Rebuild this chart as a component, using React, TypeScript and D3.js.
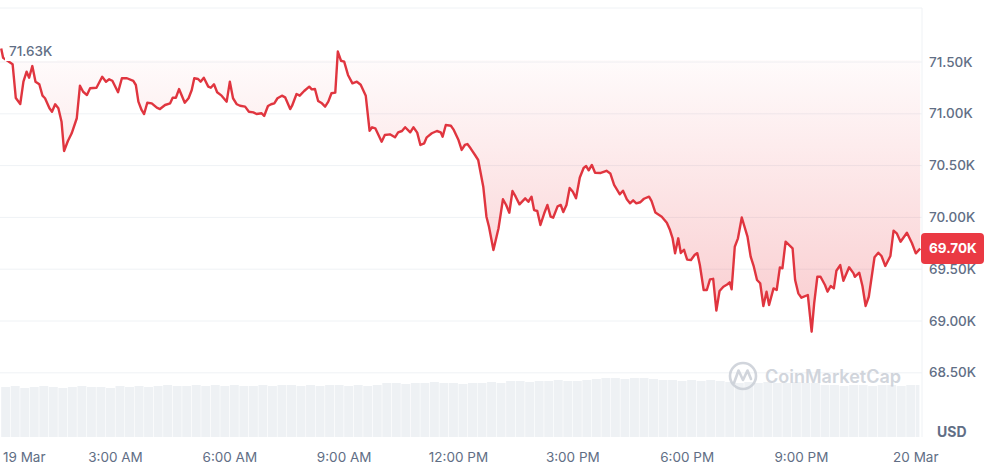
import React from "react";
import * as d3 from "d3";

// minutes since 19 Mar 00:00
const times = [
  0, 3, 18, 23, 30, 35, 40, 44, 49, 54, 60, 65, 69, 76, 80, 85, 90, 95, 99, 105,
  111, 119, 124, 129, 135, 140, 150, 159, 165, 170, 175, 184, 190, 198, 208, 212, 216, 221, 225, 230,
  237, 245, 250, 258, 266, 270, 275, 280, 289, 295, 300, 304, 310, 314, 319, 326, 330, 335, 340, 347,
  355, 360, 365, 371, 376, 384, 390, 397, 402, 410, 414, 420, 425, 430, 435, 442, 447, 455, 458, 465,
  470, 477, 485, 489, 494, 499, 505, 510, 515, 520, 526, 530, 535, 540, 546, 553, 560, 566, 574, 580,
  584, 589, 599, 604, 612, 620, 625, 631, 636, 644, 649, 655, 660, 666, 670, 678, 686, 692, 695, 700,
  708, 712, 720, 725, 730, 734, 739, 746, 751, 759, 764, 768, 775, 783, 790, 795, 800, 805, 810, 816,
  825, 830, 835, 839, 844, 849, 855, 860, 865, 869, 876, 881, 885, 890, 895, 900, 905, 911, 917, 921,
  925, 930, 935, 944, 953, 959, 965, 970, 974, 979, 985, 990, 995, 1000, 1006, 1012, 1020, 1024, 1030, 1040,
  1048, 1053, 1057, 1061, 1066, 1070, 1075, 1080, 1086, 1092, 1096, 1100, 1106, 1111, 1116, 1121, 1126, 1131, 1137, 1143,
  1147, 1150, 1155, 1160, 1166, 1175, 1180, 1185, 1190, 1195, 1200, 1205, 1209, 1216, 1221, 1226, 1230, 1235, 1246, 1250,
  1255, 1260, 1270, 1276, 1280, 1285, 1290, 1297, 1301, 1306, 1311, 1315, 1321, 1326, 1335, 1342, 1344, 1351, 1356, 1361,
  1366, 1375, 1381, 1386, 1392, 1400, 1405, 1410, 1416, 1426, 1434, 1440, 1447,
];

const prices = [
  71630, 71540, 71478, 71152, 71095, 71310, 71406, 71348, 71461, 71310, 71285, 71175, 71150, 71053, 71020, 71092, 71053, 70924, 70641, 70737,
  70812, 70957, 71271, 71213, 71181, 71246, 71252, 71358, 71310, 71333, 71319, 71208, 71343, 71343, 71317, 71278, 71117, 71037, 70998, 71107,
  71101, 71059, 71046, 71085, 71101, 71155, 71155, 71239, 71107, 71150, 71230, 71343, 71336, 71310, 71348, 71262, 71252, 71285, 71208, 71175,
  71117, 71310, 71150, 71092, 71078, 71069, 71020, 71014, 70998, 71005, 70979, 71075, 71092, 71101, 71150, 71175, 71159, 71046, 71078, 71191,
  71175, 71220, 71262, 71236, 71239, 71124, 71101, 71069, 71117, 71198, 71205, 71601, 71512, 71503, 71375, 71294, 71310, 71281, 71174, 70836,
  70870, 70860, 70731, 70795, 70802, 70773, 70821, 70834, 70870, 70821, 70870, 70818, 70699, 70715, 70773, 70812, 70834, 70821, 70779, 70892,
  70885, 70850, 70747, 70651, 70699, 70708, 70667, 70602, 70554, 70296, 70007, 69910, 69685, 69895, 70175, 70120, 70045, 70255, 70200, 70126,
  70184, 70151, 70200, 70071, 70062, 69927, 70040, 70120, 70007, 69997, 70107, 70120, 70052, 70120, 70284, 70248, 70184, 70385, 70477, 70496,
  70455, 70506, 70431, 70429, 70450, 70424, 70313, 70264, 70223, 70258, 70175, 70136, 70165, 70136, 70146, 70180, 70200, 70158, 70047, 70007,
  69949, 69878, 69801, 69653, 69798, 69656, 69688, 69592, 69589, 69640, 69655, 69540, 69299, 69299, 69402, 69407, 69101, 69289, 69331, 69352,
  69373, 69306, 69717, 69798, 69999, 69814, 69621, 69524, 69396, 69364, 69145, 69283, 69154, 69315, 69299, 69518, 69509, 69765, 69702, 69396,
  69267, 69225, 69251, 68897, 69171, 69427, 69427, 69347, 69283, 69338, 69315, 69485, 69540, 69389, 69518, 69460, 69427, 69466, 69338, 69145,
  69234, 69615, 69659, 69627, 69531, 69627, 69872, 69846, 69765, 69852, 69750, 69653, 69700,
];

// volume per 15 minutes (relative units)
const volumes = [
  50, 51, 49, 50, 51, 50, 49, 50, 51, 50, 50, 49, 51, 50, 51, 50,
  51, 52, 51, 51, 52, 51, 52, 51, 52, 51, 51, 52, 51, 52, 52, 51, 52, 51, 52, 52, 51, 52, 51, 52,
  54, 54, 53, 54, 54, 55, 54, 54, 53, 54, 54, 55, 54,
  56, 56, 55, 56, 56, 57, 56, 56, 57,
  58, 59, 59, 58, 59, 59, 58,
  57, 57, 56, 57, 56, 57, 56,
  55, 54, 55, 54, 55, 54, 54, 55, 54, 54,
  52, 52, 51, 52, 52, 51, 52, 52, 51, 52, 52,
];
const volumeStep = 15;

const xTickMinutes = [0, 180, 360, 540, 720, 900, 1080, 1260, 1440];
const xTickLabels = ["19 Mar", "3:00 AM", "6:00 AM", "9:00 AM", "12:00 PM", "3:00 PM", "6:00 PM", "9:00 PM", "20 Mar"];
const yTickValues = [68500, 69000, 69500, 70000, 70500, 71000, 71500];
const highLabel = "71.63K";
const lastPriceLabel = "69.70K";
const lastPrice = 69700;
const openPrice = 71520;
const currencyLabel = "USD";
const watermark = "CoinMarketCap";

const W = 993;
const H = 468;
const plotRight = 922;
const plotTop = 8;
const plotBottom = 437;
const RED = "#ea3943";
const LINE = "#e0353f";
const GRID = "#eff2f5";
const TEXT = "#616e85";
const FONT = "Inter, 'Noto Sans', sans-serif";

export default function App() {
  const x = d3.scaleLinear().domain([0, 1440]).range([1.2, 915.8]);
  const y = d3.scaleLinear().domain([68500, 71500]).range([372.8, 62]);
  const vy = d3.scaleLinear().domain([0, 60]).range([plotBottom, plotBottom - 60]);

  const pts = times.map((t, i) => [t, prices[i]] as [number, number]);
  const line = d3
    .line<[number, number]>()
    .x((d) => x(d[0]))
    .y((d) => y(d[1]));
  const base = y(openPrice);
  const area = d3
    .area<[number, number]>()
    .x((d) => x(d[0]))
    .y0(base)
    .y1((d) => y(d[1]));

  const fmt = (v: number) => d3.format(".2f")(v / 1000) + "K";
  const lastY = y(lastPrice);

  return (
    <svg
      width={W}
      height={H}
      style={{ position: "absolute", left: 0, top: 0, background: "#fff" }}
      fontFamily={FONT}
    >
      <defs>
        <linearGradient id="redFill" gradientUnits="userSpaceOnUse" x1="0" y1={base} x2="0" y2={y(68900)}>
          <stop offset="0%" stopColor={RED} stopOpacity={0.02} />
          <stop offset="100%" stopColor={RED} stopOpacity={0.26} />
        </linearGradient>
        <clipPath id="belowBase">
          <rect x={0} y={base} width={plotRight} height={plotBottom - base} />
        </clipPath>
        <clipPath id="plotClip">
          <rect x={0} y={plotTop} width={plotRight - 1} height={plotBottom - plotTop} />
        </clipPath>
      </defs>

      {/* frame */}
      <line x1={0} x2={plotRight} y1={plotTop} y2={plotTop} stroke={GRID} />
      <line x1={plotRight} x2={plotRight} y1={plotTop} y2={plotBottom} stroke={GRID} />

      {/* grid */}
      {yTickValues.map((v) => (
        <line key={v} x1={0} x2={plotRight} y1={y(v)} y2={y(v)} stroke={GRID} strokeWidth={1} />
      ))}

      {/* volume */}
      <g clipPath="url(#plotClip)">
        {volumes.map((v, i) => {
          const x0 = x(i * volumeStep);
          const x1 = x((i + 1) * volumeStep);
          return (
            <rect
              key={i}
              x={x0}
              y={vy(v)}
              width={Math.max(0, Math.min(x1, 920) - x0 - 0.6)}
              height={plotBottom - vy(v)}
              fill="#eef1f4"
            />
          );
        })}
      </g>

      {/* watermark */}
      <g opacity={0.85}>
        <circle cx={743} cy={376} r={13} fill="none" stroke="#c9ced6" strokeWidth={2.6} />
        <path
          d="M734,383 L738.5,370.5 L743,380 L747.5,370.5 L751,379"
          fill="none"
          stroke="#c9ced6"
          strokeWidth={2.6}
          strokeLinejoin="round"
          strokeLinecap="round"
        />
        <text x={765} y={382.5} fontSize={18} fontWeight={600} fill="#c9ced6">
          {watermark}
        </text>
      </g>

      {/* area + line */}
      <g clipPath="url(#plotClip)">
        <path d={area(pts) || ""} fill="url(#redFill)" clipPath="url(#belowBase)" />
        <path d={line(pts) || ""} fill="none" stroke={LINE} strokeWidth={2.4} strokeLinejoin="round" />
      </g>

      {/* high label */}
      <rect x={5} y={40} width={52} height={21} fill="#fff" />
      <text x={9} y={55.5} fontSize={13.5} fontWeight={500} fill={TEXT}>
        {highLabel}
      </text>

      {/* y axis labels */}
      {yTickValues.map((v) => (
        <text key={v} x={929} y={y(v) + 4.5} fontSize={13.5} fontWeight={500} fill={TEXT}>
          {fmt(v)}
        </text>
      ))}
      <text x={937} y={437} fontSize={14} fontWeight={700} fill={TEXT}>
        {currencyLabel}
      </text>

      {/* last price tag */}
      <rect x={921} y={lastY - 15.5} width={63} height={31} rx={4} fill={RED} />
      <text x={929} y={lastY + 4.5} fontSize={13.5} fontWeight={700} fill="#fff">
        {lastPriceLabel}
      </text>

      {/* x axis labels */}
      {xTickMinutes.map((m, i) => (
        <text
          key={m}
          x={i === 0 ? 3 : x(m)}
          y={462}
          fontSize={13.5}
          textAnchor={i === 0 ? "start" : "middle"}
          fill={TEXT}
        >
          {xTickLabels[i]}
        </text>
      ))}
    </svg>
  );
}
